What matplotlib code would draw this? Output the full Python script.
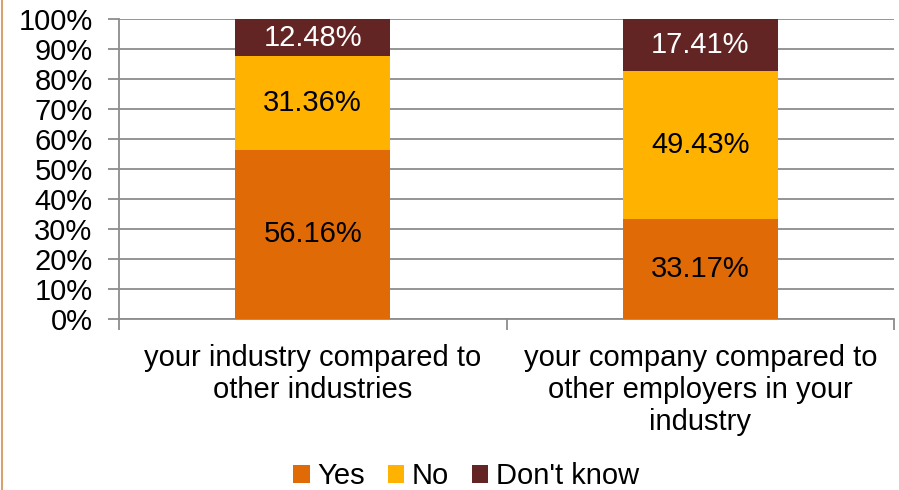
import matplotlib
matplotlib.use("Agg")
import matplotlib.pyplot as plt
from matplotlib.lines import Line2D
import numpy as np

plt.rcParams['font.family'] = ['Liberation Sans', 'DejaVu Sans']

categories = ["your industry compared to\nother industries",
              "your company compared to\nother employers in your\nindustry"]
series_names = ["Yes", "No", "Don't know"]
yes = [56.16, 33.17]
no = [31.36, 49.43]
dont_know = [12.48, 17.41]
series_values = [yes, no, dont_know]
colors = ["#E06A06", "#FFB300", "#632523"]
label_colors = ["black", "black", "white"]
y_ticks = [0, 10, 20, 30, 40, 50, 60, 70, 80, 90, 100]
y_tick_labels = [f"{t}%" for t in y_ticks]

FS = 21
W, H = 899, 490
fig = plt.figure(figsize=(W / 100, H / 100), dpi=100)
ax = fig.add_axes([119 / W, 1 - 318.5 / H, (894 - 119) / W, (318.5 - 19) / H])

x = np.arange(len(categories))
bottom = np.zeros(len(categories))
handles = []
for name, vals, col, lc in zip(series_names, series_values, colors, label_colors):
    vals = np.array(vals)
    bars = ax.bar(x, vals, width=0.4, bottom=bottom, color=col, label=name,
                  zorder=3, linewidth=0)
    for b, v, bt in zip(bars, vals, bottom):
        ax.text(b.get_x() + b.get_width() / 2, bt + v / 2, f"{v:.2f}%",
                ha="center", va="center", fontsize=FS, color=lc, zorder=4)
    bottom = bottom + vals
    handles.append(bars)

ax.set_xlim(-0.5, len(categories) - 0.5)
ax.set_ylim(0, 100)
ax.set_yticks(y_ticks)
ax.set_yticklabels(y_tick_labels, fontsize=FS)
ax.yaxis.grid(True, color="#8C8C8C", linewidth=1.3, zorder=0)
ax.set_axisbelow(True)

ax.set_xticks(x)
ax.set_xticklabels(categories, fontsize=FS, linespacing=1.18)
ax.tick_params(axis="x", length=0, pad=18.5)
ax.set_xticks([-0.5, 0.5, 1.5], minor=True)
ax.tick_params(axis="x", which="minor", length=8, color="#8C8C8C", width=1.3,
               direction="out")
ax.tick_params(axis="y", length=8, color="#8C8C8C", width=1.3, pad=11)

for s in ["top", "right"]:
    ax.spines[s].set_visible(False)
for s in ["left", "bottom"]:
    ax.spines[s].set_color("#8C8C8C")
    ax.spines[s].set_linewidth(1.3)

fig.legend(handles=handles, labels=series_names, loc="center",
           bbox_to_anchor=(466 / W, 1 - 476 / H), ncol=3, frameon=False,
           fontsize=FS, handlelength=0.56, handleheight=0.56,
           handletextpad=0.25, columnspacing=0.8, borderpad=0.2)

fig.add_artist(Line2D([1.5 / W, 1.5 / W], [0, 1], transform=fig.transFigure,
                      color="#D9A070", linewidth=1.5))

fig.savefig("out.png", dpi=100, facecolor="white")
